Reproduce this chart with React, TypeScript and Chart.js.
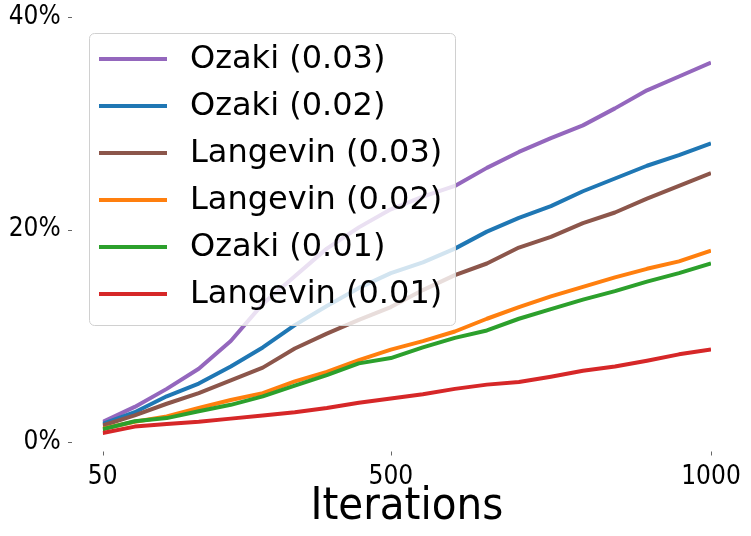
import { useEffect, useRef } from "react"
import { Chart, registerables } from "chart.js"

Chart.register(...registerables)

const iterations = [50, 100, 150, 200, 250, 300, 350, 400, 450, 500, 550, 600, 650, 700, 750, 800, 850, 900, 950, 1000]

const seriesNames = ["Ozaki (0.03)", "Ozaki (0.02)", "Langevin (0.03)", "Langevin (0.02)", "Ozaki (0.01)", "Langevin (0.01)"]
const seriesColors = ["#9467bd", "#1f77b4", "#8c564b", "#ff7f0e", "#2ca02c", "#d62728"]

const ozaki003 = [1.9, 3.3, 5.0, 6.9, 9.5, 13.0, 15.6, 18.2, 20.2, 21.9, 23.1, 24.1, 25.8, 27.3, 28.6, 29.8, 31.4, 33.1, 34.4, 35.7]
const ozaki002 = [1.7, 2.8, 4.3, 5.5, 7.1, 8.9, 11.0, 12.8, 14.5, 15.9, 16.9, 18.2, 19.8, 21.1, 22.2, 23.6, 24.8, 26.0, 27.0, 28.1]
const langevin003 = [1.55, 2.5, 3.6, 4.6, 5.8, 7.0, 8.8, 10.2, 11.5, 12.7, 14.3, 15.7, 16.8, 18.3, 19.3, 20.6, 21.6, 22.9, 24.1, 25.3]
const langevin002 = [1.25, 1.9, 2.4, 3.2, 3.95, 4.6, 5.7, 6.6, 7.7, 8.7, 9.5, 10.4, 11.6, 12.7, 13.7, 14.6, 15.5, 16.3, 17.0, 18.0]
const ozaki001 = [1.2, 1.95, 2.25, 2.9, 3.5, 4.3, 5.3, 6.3, 7.4, 7.9, 8.9, 9.8, 10.5, 11.6, 12.5, 13.4, 14.2, 15.1, 15.9, 16.8]
const langevin001 = [0.85, 1.45, 1.7, 1.9, 2.2, 2.5, 2.8, 3.2, 3.7, 4.1, 4.5, 5.0, 5.4, 5.65, 6.15, 6.7, 7.1, 7.65, 8.25, 8.7]

const seriesValues = [ozaki003, ozaki002, langevin003, langevin002, ozaki001, langevin001]

const xTicks = [50, 500, 1000]
const yTicks = [0, 20, 40]

const tickFont = "'DejaVu Sans Condensed', 'DejaVu Sans', sans-serif"

// legend drawn inside the plot, over the lines (matplotlib style)
const innerLegend = {
  id: "innerLegend",
  afterDatasetsDraw(chart: any) {
    const ctx = chart.ctx
    const x0 = 89
    const y0 = 33
    const w = 366
    const h = 292
    ctx.save()
    ctx.beginPath()
    ctx.roundRect(x0 + 0.5, y0 + 0.5, w, h, 5)
    ctx.fillStyle = "rgba(255,255,255,0.8)"
    ctx.fill()
    ctx.strokeStyle = "#d0d0d0"
    ctx.lineWidth = 1
    ctx.stroke()
    ctx.font = "32px 'DejaVu Sans'"
    ctx.textBaseline = "middle"
    chart.data.datasets.forEach((ds: any, i: number) => {
      const y = 59 + i * 47
      ctx.strokeStyle = ds.borderColor
      ctx.lineWidth = 4
      ctx.beginPath()
      ctx.moveTo(99, y)
      ctx.lineTo(167, y)
      ctx.stroke()
      ctx.fillStyle = "#000"
      ctx.fillText(ds.label, 190, y + 1)
    })
    ctx.restore()
  },
  afterDraw(chart: any) {
    // offset tick marks
    const ctx = chart.ctx
    const xs = chart.scales.x
    const ys = chart.scales.y
    ctx.save()
    ctx.strokeStyle = "#666"
    ctx.lineWidth = 1
    ctx.beginPath()
    xTicks.forEach((v) => {
      const px = Math.round(xs.getPixelForValue(v)) + 0.5
      ctx.moveTo(px, 451.5)
      ctx.lineTo(px, 455.5)
    })
    yTicks.forEach((v) => {
      const py = Math.round(ys.getPixelForValue(v)) + 0.5
      ctx.moveTo(68, py)
      ctx.lineTo(72, py)
    })
    ctx.stroke()
    ctx.restore()
  },
}

export default function App() {
  const chartRef = useRef<HTMLCanvasElement>(null)
  const chartInstance = useRef<Chart | null>(null)

  useEffect(() => {
    if (!chartRef.current) return
    if (chartInstance.current) chartInstance.current.destroy()

    const n = seriesNames.length
    chartInstance.current = new Chart(chartRef.current, {
      type: "line",
      data: {
        datasets: seriesNames.map((name, i) => ({
          label: name,
          data: iterations.map((it, j) => ({ x: it, y: seriesValues[i][j] })),
          borderColor: seriesColors[i],
          backgroundColor: seriesColors[i],
          borderWidth: 4,
          pointRadius: 0,
          tension: 0,
          borderJoinStyle: "round" as const,
          borderCapStyle: "butt" as const,
          order: n - i,
        })),
      },
      options: {
        animation: false,
        responsive: true,
        maintainAspectRatio: false,
        layout: { padding: { top: 17, right: 40, left: 0, bottom: 0 } },
        plugins: {
          legend: { display: false },
          tooltip: { enabled: false },
        },
        scales: {
          x: {
            type: "linear",
            min: 50,
            max: 1000,
            afterBuildTicks: (scale: any) => {
              scale.ticks = xTicks.map((v) => ({ value: v }))
            },
            afterFit: (scale: any) => {
              scale.height = 94
              scale.paddingLeft = 0
              scale.paddingRight = 0
            },
            grid: { display: false },
            border: { display: false },
            ticks: {
              color: "#000",
              padding: 12,
              maxRotation: 0,
              font: { family: tickFont, size: 26 },
              callback: (v: any) => String(v),
            },
            title: {
              display: true,
              text: "Iterations",
              color: "#000",
              padding: { top: 0, bottom: 2 },
              font: { family: tickFont, size: 45 },
            },
          },
          y: {
            type: "linear",
            min: 0,
            max: 40,
            afterBuildTicks: (scale: any) => {
              scale.ticks = yTicks.map((v) => ({ value: v }))
            },
            afterFit: (scale: any) => {
              scale.width = 102.7
              scale.paddingTop = 0
              scale.paddingBottom = 0
            },
            grid: { display: false },
            border: { display: false },
            ticks: {
              color: "#000",
              padding: 34,
              font: { family: tickFont, size: 26 },
              callback: (v: any) => v + "%",
            },
          },
        },
      },
      plugins: [innerLegend],
    })

    return () => {
      if (chartInstance.current) {
        chartInstance.current.destroy()
        chartInstance.current = null
      }
    }
  }, [])

  return (
    <div style={{ position: "fixed", left: 0, top: 0, width: 751, height: 536, background: "#fff" }}>
      <canvas ref={chartRef}></canvas>
    </div>
  )
}
